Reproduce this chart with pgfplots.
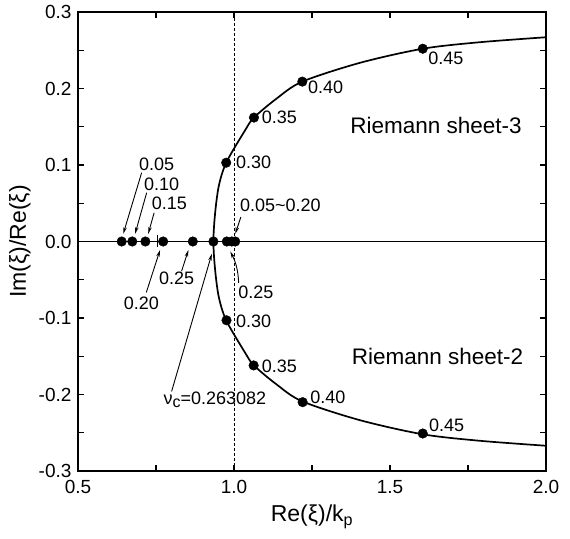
\documentclass[border=0pt]{standalone}
\usepackage{pgfplots}
\pgfplotsset{compat=1.18}
\usepackage{fontspec}
\setmainfont{Liberation Sans}
\usetikzlibrary{arrows.meta}

\newcommand\tickfont{\fontsize{19}{21}\selectfont}
\newcommand\numfont{\fontsize{18}{20}\selectfont}
\newcommand\sheetfont{\fontsize{22.5}{24}\selectfont}
\newcommand\labfont{\fontsize{23}{25}\selectfont}

\begin{document}
\begin{tikzpicture}[
  arr/.style={-{Stealth[length=7pt,width=3.5pt]}, line width=0.9pt, black},
  num/.style={font=\numfont, inner sep=0pt},
]
\begin{axis}[
  width=468pt, height=459pt, scale only axis,
  xmin=0.5, xmax=2.0, ymin=-0.3, ymax=0.3,
  xtick={0.5,1.0,1.5,2.0},
  ytick={-0.3,-0.2,-0.1,0,0.1,0.2,0.3},
  minor x tick num=1, minor y tick num=1,
  tick align=inside, tick pos=both,
  major tick length=6pt, minor tick length=6pt,
  every tick/.style={black, line width=1.1pt},
  axis line style={line width=1.4pt},
  xticklabel style={font=\tickfont, yshift=-6pt},
  yticklabel style={font=\tickfont, xshift=-3pt},
  /pgf/number format/.cd, fixed, fixed zerofill, precision=1, assume math mode=true,
  /pgfplots/.cd,
  xlabel={Re(ξ)/k\textsubscript{p}},
  ylabel={Im(ξ)/Re(ξ)},
  label style={font=\labfont},
  xlabel style={at={(axis description cs:0.5,-0.100)}, anchor=center},
  ylabel style={at={(axis description cs:-0.124,0.5)}, anchor=center},
  clip=false,
]
\coordinate (BL) at (rel axis cs:0,0);
\coordinate (TR) at (rel axis cs:1,1);

% real axis and the line Re(xi) = k_p
\addplot[black, line width=1.3pt] coordinates {(0.5,0) (2.0,0)};
\addplot[black, line width=1pt, dash pattern=on 3pt off 2pt] coordinates {(1.0,-0.3) (1.0,0.3)};

% root locus on the two Riemann sheets
\addplot[black, line width=1.7pt, smooth] coordinates {
  (2.0,-0.267) (1.788,-0.2605) (1.605,-0.252) (1.404,-0.2336) (1.219,-0.209)
  (1.137,-0.187) (1.064,-0.162) (1.035,-0.145) (0.975,-0.103) (0.951,-0.072)
  (0.939,-0.035) (0.934,0) (0.939,0.035) (0.951,0.072) (0.975,0.103)
  (1.035,0.145) (1.064,0.162) (1.137,0.187) (1.219,0.209) (1.404,0.2336)
  (1.605,0.252) (1.788,0.2605) (2.0,0.267)};

% roots for nu = 0.30 ... 0.45
\addplot[only marks, mark=*, mark size=4.8pt, black] coordinates {
  (0.975,0.103) (1.064,0.162) (1.219,0.209) (1.605,0.252)
  (0.976,-0.103) (1.063,-0.162) (1.220,-0.210) (1.605,-0.251)};

% real roots
\addplot[only marks, mark=*, mark size=4.8pt, black] coordinates {
  (0.640,0) (0.674,0) (0.716,0) (0.773,0) (0.868,0)
  (0.934,0) (0.977,0) (0.993,0) (1.004,0)};
\addplot[only marks, mark=|, mark size=6pt, line width=1pt, black] coordinates {(0.754,0)};

% labels, left group
\node[num] at (axis cs:0.752,0.1007) {0.05};
\node[num] at (axis cs:0.768,0.0745) {0.10};
\node[num] at (axis cs:0.793,0.0497) {0.15};
\draw[arr] (axis cs:0.704,0.090) -- (axis cs:0.645,0.010);
\draw[arr] (axis cs:0.720,0.0637) -- (axis cs:0.683,0.010);
\draw[arr] (axis cs:0.744,0.0375) -- (axis cs:0.725,0.010);

\node[num] at (axis cs:0.703,-0.081) {0.20};
\draw[arr] (axis cs:0.719,-0.0665) -- (axis cs:0.763,-0.011);
\node[num] at (axis cs:0.816,-0.048) {0.25};
\draw[arr] (axis cs:0.832,-0.0388) -- (axis cs:0.854,-0.011);

\node[num] at (axis cs:0.939,-0.2065) {ν\raisebox{-3pt}{\fontsize{16}{16}\selectfont c}=0.263082};
\draw[arr] (axis cs:0.800,-0.196) -- (axis cs:0.929,-0.016);

% labels near k_p
\node[num, anchor=west] at (axis cs:1.019,0.0475) {0.05\textasciitilde 0.20};
\draw[arr] (axis cs:1.022,0.032) -- (axis cs:1.004,0.010);
\node[num, anchor=west] at (axis cs:1.013,-0.0667) {0.25};
\draw[arr] (axis cs:1.015,-0.054) to[bend right=12] (axis cs:0.988,-0.013);

% labels of the complex roots
\node[num, anchor=west] at (axis cs:1.006,0.1033) {0.30};
\node[num, anchor=west] at (axis cs:1.089,0.162) {0.35};
\node[num, anchor=west] at (axis cs:1.237,0.201) {0.40};
\node[num, anchor=west] at (axis cs:1.622,0.239) {0.45};
\node[num, anchor=west] at (axis cs:1.006,-0.104) {0.30};
\node[num, anchor=west] at (axis cs:1.089,-0.163) {0.35};
\node[num, anchor=west] at (axis cs:1.244,-0.204) {0.40};
\node[num, anchor=west] at (axis cs:1.625,-0.2405) {0.45};

\node[font=\sheetfont, anchor=west, inner sep=0pt] at (axis cs:1.372,0.1516) {Riemann sheet-3};
\node[font=\sheetfont, anchor=west, inner sep=0pt] at (axis cs:1.377,-0.150) {Riemann sheet-2};
\end{axis}
\pgfresetboundingbox
\path ([xshift=-78pt,yshift=-67pt]BL) rectangle ([xshift=24pt,yshift=12pt]TR);
\end{tikzpicture}
\end{document}
